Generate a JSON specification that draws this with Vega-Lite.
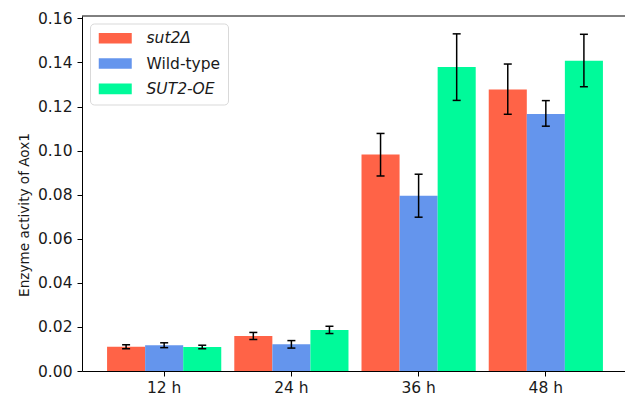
{
  "$schema": "https://vega.github.io/schema/vega-lite/v6.json",
  "width": 543,
  "height": 355,
  "autosize": {"type": "none"},
  "padding": {"left": 82, "top": 16, "right": 0, "bottom": 27},
  "background": "white",
  "config": {
    "font": "DejaVu Sans",
    "view": {"stroke": null},
    "axis": {
      "domainColor": "black",
      "domainWidth": 1,
      "tickColor": "black",
      "tickSize": 5,
      "labelColor": "#1a1a1a",
      "labelFontSize": 15.5,
      "labelFont": "DejaVu Sans",
      "titleFont": "DejaVu Sans",
      "titleFontWeight": "normal",
      "titleColor": "#1a1a1a",
      "grid": false
    }
  },
  "data": {
    "values": [
      {"time": "12 h", "strain": "sut2Δ", "value": 0.0110, "lo": 0.0101, "hi": 0.0119},
      {"time": "12 h", "strain": "Wild-type", "value": 0.0117, "lo": 0.0106, "hi": 0.0128},
      {"time": "12 h", "strain": "SUT2-OE", "value": 0.0109, "lo": 0.0101, "hi": 0.0117},
      {"time": "24 h", "strain": "sut2Δ", "value": 0.0159, "lo": 0.0143, "hi": 0.0175},
      {"time": "24 h", "strain": "Wild-type", "value": 0.0121, "lo": 0.0104, "hi": 0.0138},
      {"time": "24 h", "strain": "SUT2-OE", "value": 0.0186, "lo": 0.0170, "hi": 0.0203},
      {"time": "36 h", "strain": "sut2Δ", "value": 0.0982, "lo": 0.0885, "hi": 0.1078},
      {"time": "36 h", "strain": "Wild-type", "value": 0.0795, "lo": 0.0698, "hi": 0.0893},
      {"time": "36 h", "strain": "SUT2-OE", "value": 0.1379, "lo": 0.1228, "hi": 0.1530},
      {"time": "48 h", "strain": "sut2Δ", "value": 0.1278, "lo": 0.1165, "hi": 0.1393},
      {"time": "48 h", "strain": "Wild-type", "value": 0.1166, "lo": 0.1111, "hi": 0.1227},
      {"time": "48 h", "strain": "SUT2-OE", "value": 0.1408, "lo": 0.1290, "hi": 0.1528}
    ]
  },
  "encoding": {
    "x": {
      "field": "time",
      "type": "nominal",
      "sort": ["12 h", "24 h", "36 h", "48 h"],
      "scale": {"paddingInner": 0.1024, "paddingOuter": 0.197, "range": [0, 546]},
      "axis": {"title": null, "labelAngle": 0, "labelPadding": 4}
    },
    "xOffset": {
      "field": "strain",
      "type": "nominal",
      "sort": ["sut2Δ", "Wild-type", "SUT2-OE"],
      "scale": {"paddingInner": 0, "paddingOuter": 0}
    }
  },
  "layer": [
    {
      "mark": {"type": "bar"},
      "encoding": {
        "y": {
          "field": "value",
          "type": "quantitative",
          "scale": {"domain": [0, 0.1611], "nice": false, "zero": true},
          "axis": {
            "title": "Enzyme activity of Aox1",
            "titleFontSize": 13.6,
            "titleX": -53.5,
            "titleY": 198.5,
            "titleAlign": "center",
            "titleBaseline": "alphabetic",
            "titleAngle": -90,
            "values": [0, 0.02, 0.04, 0.06, 0.08, 0.1, 0.12, 0.14, 0.16],
            "format": ".2f",
            "labelPadding": 5
          }
        },
        "color": {
          "field": "strain",
          "type": "nominal",
          "scale": {
            "domain": ["sut2Δ", "Wild-type", "SUT2-OE"],
            "range": ["#FF6347", "#6495ED", "#00FA9A"]
          },
          "legend": {
            "title": null,
            "orient": "none",
            "legendX": 8,
            "legendY": 7.5,
            "padding": 7,
            "strokeColor": "#d9d9d9",
            "fillColor": "white",
            "cornerRadius": 4,
            "symbolType": "M-1.2,-1.06H5.4V1.06H-1.2Z",
            "symbolSize": 100,
            "symbolStrokeWidth": 0,
            "symbolOpacity": 1,
            "labelFontSize": 15.5,
            "labelFont": "DejaVu Sans",
            "labelColor": "#1a1a1a",
            "labelOffset": 34,
            "rowPadding": 8.3,
            "labelFontStyle": {"expr": "datum.label == 'Wild-type' ? 'normal' : 'italic'"}
          }
        }
      }
    },
    {
      "mark": {"type": "rule", "color": "black", "strokeWidth": 1.5},
      "encoding": {
        "y": {"field": "lo", "type": "quantitative"},
        "y2": {"field": "hi"}
      }
    },
    {
      "mark": {"type": "tick", "color": "black", "size": 8, "thickness": 1.5, "opacity": 1},
      "encoding": {"y": {"field": "lo", "type": "quantitative"}}
    },
    {
      "mark": {"type": "tick", "color": "black", "size": 8, "thickness": 1.5, "opacity": 1},
      "encoding": {"y": {"field": "hi", "type": "quantitative"}}
    },
    {
      "data": {"values": [{"top": 0.1611}]},
      "mark": {"type": "rule", "color": "black", "strokeWidth": 1},
      "encoding": {
        "x": null,
        "xOffset": null,
        "y": {"field": "top", "type": "quantitative"}
      }
    }
  ]
}
